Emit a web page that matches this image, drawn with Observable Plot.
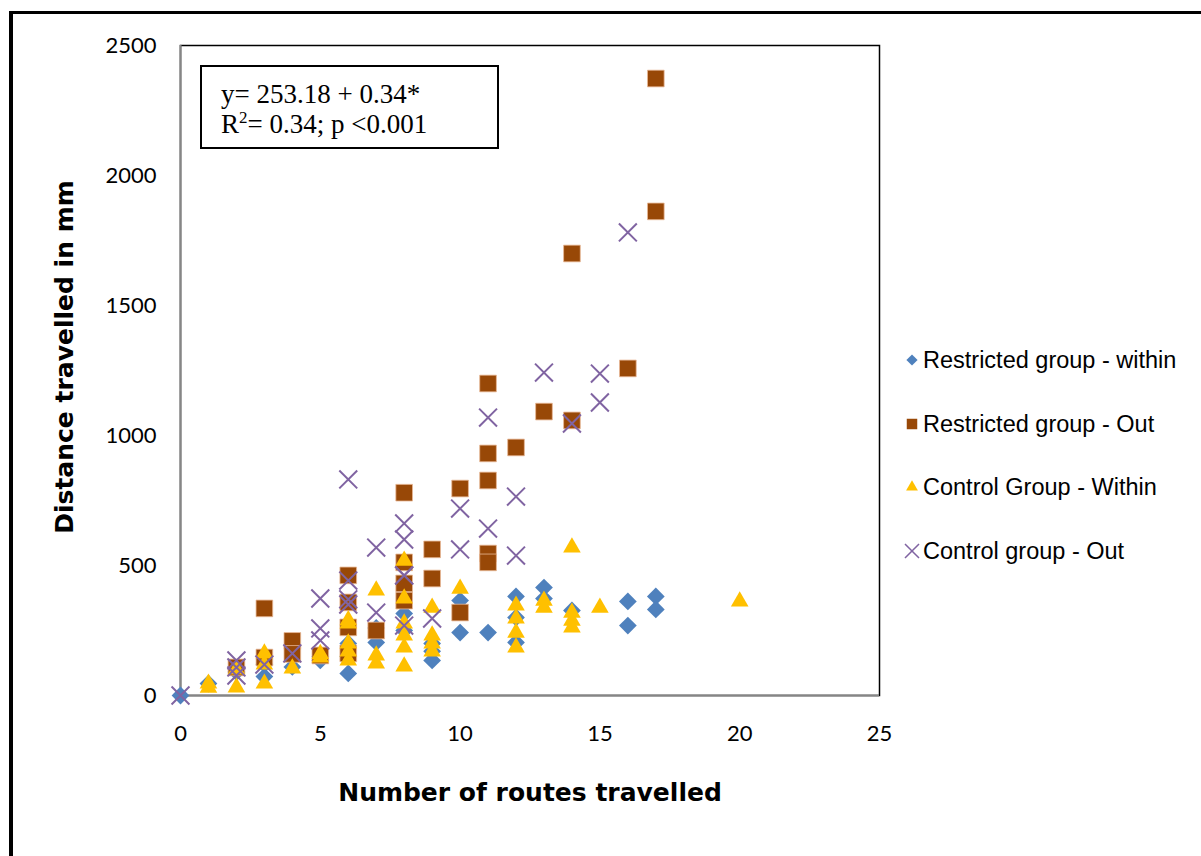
<!DOCTYPE html>
<html>
<head>
<meta charset="utf-8">
<script src="https://cdn.jsdelivr.net/npm/d3@7"></script>
<script src="https://cdn.jsdelivr.net/npm/@observablehq/plot@0.6"></script>
<style>
  html, body { margin: 0; padding: 0; background: #fff; }
  #wrap { position: relative; width: 1201px; height: 856px; overflow: hidden; }
  #frame { position: absolute; left: 9px; top: 11px; width: 1300px; height: 1000px;
           border-left: 4px solid #000; border-top: 3px solid #000; }
  #chart { position: absolute; left: 0; top: 0; }
  .xtitle { position: absolute; left: 180px; width: 700px; top: 778px; text-align: center;
            font: 900 25px "DejaVu Sans", "Liberation Sans", sans-serif; }
  .ytitle { position: absolute; left: 64px; top: 357px; transform: translate(-50%, -50%) rotate(-90deg);
            white-space: nowrap; font: 900 25px "DejaVu Sans", "Liberation Sans", sans-serif; }
  #note { position: absolute; left: 200px; top: 65px; width: 295px; height: 80px;
          border: 2px solid #000; background: #fff;
          font: 27px "Liberation Serif", serif; line-height: 30px; }
  #note div { position: absolute; left: 19px; white-space: nowrap; }
  #legend { position: absolute; left: 900px; top: 0; font: 23.5px "Liberation Sans", Arial, sans-serif; }
  .li { position: absolute; left: 0; white-space: nowrap; height: 28px; line-height: 28px; }
  .li svg { position: absolute; left: 2px; top: 4px; }
  .li span { position: absolute; left: 23px; top: 0; }
</style>
</head>
<body>
<div id="wrap">
  <div id="frame"></div>
  <div id="chart"></div>
  <div id="note"><div style="top:12px">y= 253.18 + 0.34*</div><div style="top:42px">R<sup style="font-size:17px;vertical-align:10px;line-height:0">2</sup>= 0.34; p &lt;0.001</div></div>
  <div class="ytitle">Distance travelled in mm</div>
  <div class="xtitle">Number of routes travelled</div>
  <div id="legend"></div>
</div>
<script>
// ---- data ----
const seriesNames = ["Restricted group - within", "Restricted group - Out", "Control Group - Within", "Control group - Out"];
const seriesColors = ["#4F81BD", "#984807", "#FFC000", "#8064A2"];

const restrictedWithinX = [0,1,2,3,3,4,5,5,6,6,6,7,7,8,8,9,9,9,10,10,11,12,12,12,13,13,14,16,16,17,17];
const restrictedWithinY = [0,46,90,73,120,110,150,135,85,150,200,204,260,315,250,170,135,200,242,365,242,381,300,204,415,373,327,362,269,381,331];

const restrictedOutX = [2,3,3,4,4,5,6,6,6,6,7,8,8,8,8,9,9,10,10,11,11,11,11,11,12,13,14,14,16,17,17];
const restrictedOutY = [108,335,146,210,160,154,462,358,262,162,250,780,512,431,365,562,450,796,319,1200,931,827,546,512,954,1092,1058,1700,1258,2373,1862];

const controlWithinX = [1,1,2,2,3,3,3,4,5,5,6,6,6,6,6,7,7,7,8,8,8,8,8,8,9,9,9,9,10,12,12,12,12,13,13,14,14,14,14,15,20];
const controlWithinY = [46,30,100,31,162,120,46,104,146,160,277,200,170,135,290,404,154,123,519,373,277,231,185,112,338,231,200,170,411,346,296,242,185,365,338,570,319,288,262,338,362];

const controlOutX = [0,2,2,2,3,4,5,5,5,6,6,6,6,7,7,8,8,8,8,8,9,10,10,11,11,12,12,13,14,15,15,16];
const controlOutY = [0,135,108,77,119,162,373,258,212,831,442,370,350,569,319,662,600,462,462,269,296,719,562,1069,642,765,538,1242,1046,1238,1127,1781];

const xTicks = [0,5,10,15,20,25];
const yTicks = [0,500,1000,1500,2000,2500];

// ---- build tables ----
const toRows = (xs, ys) => xs.map((x, i) => ({x, y: ys[i]}));
const rw = toRows(restrictedWithinX, restrictedWithinY);
const ro = toRows(restrictedOutX, restrictedOutY);
const cw = toRows(controlWithinX, controlWithinY);
const co = toRows(controlOutX, controlOutY);

const chart = Plot.plot({
  width: 1201,
  height: 856,
  marginLeft: 180,
  marginRight: 322,
  marginTop: 45,
  marginBottom: 161,
  style: {fontFamily: "Lato, 'Open Sans', sans-serif", fontSize: "22px", color: "#000", background: "transparent"},
  x: {domain: [0, 25], ticks: xTicks},
  y: {domain: [0, 2500], ticks: yTicks},
  marks: [
    Plot.frame({stroke: "#000", strokeWidth: 1.5}),
    Plot.ruleX([0], {stroke: "#868686", strokeWidth: 2}),
    Plot.ruleY([0], {stroke: "#868686", strokeWidth: 2}),
    Plot.axisX({ticks: xTicks, tickSize: 0, tickPadding: 30, label: null, fontSize: 22, tickFormat: d => String(d)}),
    Plot.axisY({ticks: yTicks, tickSize: 0, tickPadding: 24, label: null, fontSize: 22, tickFormat: d => String(d)}),
    Plot.dot(rw, {x: "x", y: "y", symbol: "diamond2", r: 8, fill: seriesColors[0], stroke: "none"}),
    Plot.dot(ro, {x: "x", y: "y", symbol: "square", r: 9.4, fill: seriesColors[1], stroke: "#e8b896", strokeWidth: 0.8}),
    Plot.dot(cw, {x: "x", y: "y", symbol: "triangle2", r: 8.4, fill: seriesColors[2], stroke: "none"}),
    Plot.dot(co, {x: "x", y: "y", symbol: "times", r: 8.2, fill: "none", stroke: seriesColors[3], strokeWidth: 2})
  ]
});
document.getElementById("chart").appendChild(chart);

// ---- legend ----
const legendSymbols = [d3.symbolDiamond2, d3.symbolSquare, d3.symbolTriangle2, d3.symbolTimes];
const legendSizes = [80, 110, 100, 130];
const legend = document.getElementById("legend");
seriesNames.forEach((name, i) => {
  const item = document.createElement("div");
  item.className = "li";
  item.style.top = (346 + i * 63.7) + "px";
  const path = d3.symbol(legendSymbols[i], legendSizes[i])();
  const isTimes = i === 3;
  item.innerHTML = `<svg width="20" height="20" viewBox="-10 -10 20 20"><path d="${path}" fill="${isTimes ? "none" : seriesColors[i]}" stroke="${isTimes ? seriesColors[i] : "none"}" stroke-width="1.5"/></svg><span>${name}</span>`;
  legend.appendChild(item);
});
</script>
</body>
</html>
